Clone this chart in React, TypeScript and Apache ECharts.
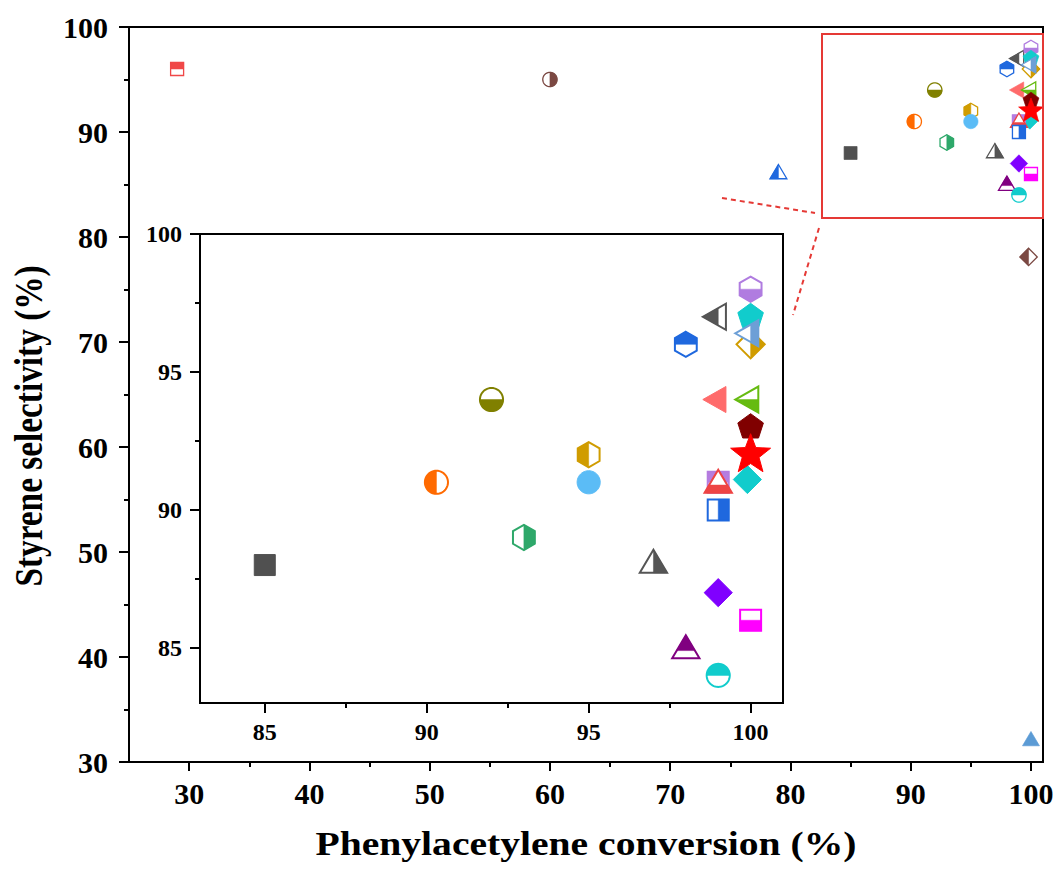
import React, { useEffect, useRef } from "react";
import * as echarts from "echarts";

// ---- data ----
const conversion: number[] = [
  29, 60, 79, 100, 99.8, 85, 90.3, 92, 93, 95, 95, 98, 99, 99, 100, 100, 100, 100, 100, 100,
  99.9, 99, 99, 99, 100, 97, 99, 100, 98, 99,
];
const selectivity: number[] = [
  96, 95, 86, 32, 78.1, 88, 91, 94, 89, 92, 91, 96, 97, 94, 94, 98, 96, 97, 96.4, 93,
  91.1, 91, 90.9, 90, 92, 88, 87, 86, 84.9, 84,
];
const markerShape: string[] = [
  "square", "circle", "triUp", "triUp", "diamond", "square", "circle", "circle", "hexagon", "hexagon",
  "circle", "hexagon", "triLeft", "triLeft", "triLeft", "hexagon", "diamond", "pentagon", "triLeft", "pentagon",
  "diamond", "square", "triUp", "square", "star", "triUp", "diamond", "square", "triUp", "circle",
];
const markerFill: string[] = [
  "top", "right", "left", "full", "left", "full", "left", "bottom", "right", "left",
  "full", "top", "left", "full", "bottom", "bottom", "right", "full", "right", "full",
  "full", "top", "bottom", "right", "full", "right", "full", "bottom", "top", "top",
];
const markerColor: string[] = [
  "#f04848", "#7b4842", "#1f68de", "#5b9bd5", "#7b4842", "#505050", "#ff6a00", "#808000", "#2ea86a", "#d09c00",
  "#5bbcf6", "#1f68de", "#555555", "#ff6b6b", "#66bb11", "#b07ce0", "#d09c00", "#11cccc", "#6d9fd6", "#800000",
  "#11cccc", "#b57de0", "#ee4444", "#1f68de", "#ff0000", "#555555", "#8000ff", "#ff00ff", "#800080", "#11cccc",
];

const mainXTicks = [30, 40, 50, 60, 70, 80, 90, 100];
const mainXMinor = [35, 45, 55, 65, 75, 85, 95];
const insetTicks = [85, 90, 95, 100];
const insetMinor = [87.5, 92.5, 97.5];

const FONT = "Liberation Serif";

type Pt = [number, number];

function basePoints(shape: string, s: number): Pt[] {
  switch (shape) {
    case "square": {
      const h = s / 2;
      return [[-h, -h], [h, -h], [h, h], [-h, h]];
    }
    case "circle": {
      const r = 0.55 * s;
      const pts: Pt[] = [];
      for (let k = 0; k < 48; k++) {
        const a = (k / 48) * Math.PI * 2;
        pts.push([r * Math.cos(a), r * Math.sin(a)]);
      }
      return pts;
    }
    case "diamond": {
      const d = 0.67 * s;
      return [[0, -d], [d, 0], [0, d], [-d, 0]];
    }
    case "triUp": {
      const w = 0.65 * s;
      const H = 1.1 * s;
      return [[0, (-2 * H) / 3], [w, H / 3], [-w, H / 3]];
    }
    case "triLeft": {
      const W = 1.1 * s;
      const hh = 0.62 * s;
      return [[(-2 * W) / 3, 0], [W / 3, -hh], [W / 3, hh]];
    }
    case "hexagon": {
      const a = 0.6 * s;
      const b = 0.52 * s;
      return [[0, -a], [b, -a / 2], [b, a / 2], [0, a], [-b, a / 2], [-b, -a / 2]];
    }
    case "pentagon": {
      const R = 0.64 * s;
      const pts: Pt[] = [];
      for (let k = 0; k < 5; k++) {
        const a = -Math.PI / 2 + (k * 2 * Math.PI) / 5;
        pts.push([R * Math.cos(a), R * Math.sin(a)]);
      }
      return pts;
    }
    case "star": {
      const R = 1.0 * s;
      const r = 0.42 * R;
      const pts: Pt[] = [];
      for (let k = 0; k < 10; k++) {
        const a = -Math.PI / 2 + (k * Math.PI) / 5;
        const rr = k % 2 === 0 ? R : r;
        pts.push([rr * Math.cos(a), rr * Math.sin(a)]);
      }
      return pts;
    }
  }
  return [];
}

function clipHalf(pts: Pt[], side: string): Pt[] {
  const f = (p: Pt) =>
    side === "left" ? -p[0] : side === "right" ? p[0] : side === "top" ? -p[1] : p[1];
  const out: Pt[] = [];
  for (let i = 0; i < pts.length; i++) {
    const a = pts[i];
    const b = pts[(i + 1) % pts.length];
    const fa = f(a);
    const fb = f(b);
    if (fa >= 0) out.push(a);
    if (fa >= 0 !== fb >= 0) {
      const t = fa / (fa - fb);
      out.push([a[0] + t * (b[0] - a[0]), a[1] + t * (b[1] - a[1])]);
    }
  }
  return out;
}

function makeRender(size: number, lw: number) {
  return (_params: any, api: any) => {
    const i = api.value(2);
    const c = api.coord([api.value(0), api.value(1)]);
    const shape = markerShape[i];
    const fill = markerFill[i];
    const color = markerColor[i];
    const local = basePoints(shape, size);
    const tr = (ps: Pt[]) => ps.map((p) => [p[0] + c[0], p[1] + c[1]]);
    if (fill === "full") {
      return {
        type: "group",
        children: [
          {
            type: "polygon",
            shape: { points: tr(local) },
            style: { fill: color, stroke: color, lineWidth: lw * 0.5 },
          },
        ],
      };
    }
    const half = clipHalf(local, fill);
    return {
      type: "group",
      children: [
        {
          type: "polygon",
          shape: { points: tr(local) },
          style: { fill: "#ffffff", stroke: color, lineWidth: lw },
        },
        {
          type: "polygon",
          shape: { points: tr(half) },
          style: { fill: color, stroke: color, lineWidth: 0.5 },
        },
      ],
    };
  };
}

const mainData = conversion.map((x, i) => [x, selectivity[i], i]);
const insetData = conversion
  .map((x, i) => [x, selectivity[i], i])
  .filter((d) => d[0] >= 83 && d[1] >= 83);

const axisLineStyle = { color: "#000", width: 2 };

export default function App() {
  const ref = useRef<HTMLDivElement>(null);
  useEffect(() => {
    if (!ref.current) return;
    const chart = echarts.init(ref.current, undefined, { renderer: "svg" });
    const mainLabel = {
      fontFamily: FONT,
      fontWeight: "bold" as const,
      fontSize: 30,
      color: "#000",
    };
    const insetLabel = {
      fontFamily: FONT,
      fontWeight: "bold" as const,
      fontSize: 24,
      color: "#000",
    };
    chart.setOption({
      animation: false,
      backgroundColor: "#ffffff",
      grid: [
        {
          left: 129,
          top: 27,
          right: 12,
          bottom: 110,
          show: true,
          borderColor: "#000",
          borderWidth: 2,
          backgroundColor: "transparent",
          containLabel: false,
          outerBoundsMode: "none",
        },
        {
          left: 200,
          top: 234,
          right: 272,
          bottom: 169,
          show: true,
          borderColor: "#000",
          borderWidth: 2,
          backgroundColor: "#ffffff",
          containLabel: false,
          outerBoundsMode: "none",
        },
      ],
      xAxis: [
        {
          type: "value",
          gridIndex: 0,
          position: "bottom",
          min: 25,
          max: 101,
          axisLine: { show: true, onZero: false, lineStyle: axisLineStyle },
          axisTick: { show: true, customValues: mainXTicks, length: 9, lineStyle: axisLineStyle },
          axisLabel: { customValues: mainXTicks, margin: 16, ...mainLabel },
          splitLine: { show: false },
        },
        {
          type: "value",
          gridIndex: 0,
          position: "bottom",
          min: 25,
          max: 101,
          axisLine: { show: false, onZero: false },
          axisTick: { show: true, customValues: mainXMinor, length: 5, lineStyle: axisLineStyle },
          axisLabel: { show: false },
          splitLine: { show: false },
        },
        {
          type: "value",
          gridIndex: 1,
          position: "bottom",
          min: 83,
          max: 101,
          axisLine: { show: true, onZero: false, lineStyle: axisLineStyle },
          axisTick: { show: true, customValues: insetTicks, length: 10, lineStyle: axisLineStyle },
          axisLabel: { customValues: insetTicks, margin: 17, ...insetLabel },
          splitLine: { show: false },
        },
        {
          type: "value",
          gridIndex: 1,
          position: "bottom",
          min: 83,
          max: 101,
          axisLine: { show: false, onZero: false },
          axisTick: { show: true, customValues: insetMinor, length: 5, lineStyle: axisLineStyle },
          axisLabel: { show: false },
          splitLine: { show: false },
        },
      ],
      yAxis: [
        {
          type: "value",
          gridIndex: 0,
          position: "left",
          min: 30,
          max: 100,
          interval: 10,
          axisLine: { show: true, onZero: false, lineStyle: axisLineStyle },
          axisTick: { show: true, length: 10, lineStyle: axisLineStyle },
          minorTick: { show: true, splitNumber: 2, length: 5, lineStyle: axisLineStyle },
          axisLabel: { margin: 21, ...mainLabel },
          splitLine: { show: false },
          minorSplitLine: { show: false },
        },
        {
          type: "value",
          gridIndex: 1,
          position: "left",
          min: 83,
          max: 100,
          axisLine: { show: true, onZero: false, lineStyle: axisLineStyle },
          axisTick: { show: true, customValues: insetTicks, length: 10, lineStyle: axisLineStyle },
          axisLabel: { customValues: insetTicks, margin: 18, ...insetLabel },
          splitLine: { show: false },
        },
        {
          type: "value",
          gridIndex: 1,
          position: "left",
          min: 83,
          max: 100,
          axisLine: { show: false, onZero: false },
          axisTick: { show: true, customValues: insetMinor, length: 5, lineStyle: axisLineStyle },
          axisLabel: { show: false },
          splitLine: { show: false },
        },
      ],
      series: [
        {
          type: "custom",
          xAxisIndex: 0,
          yAxisIndex: 0,
          renderItem: makeRender(13, 1.3),
          encode: { x: 0, y: 1 },
          data: mainData,
          clip: false,
          z: 5,
        },
        {
          type: "custom",
          xAxisIndex: 2,
          yAxisIndex: 1,
          renderItem: makeRender(21, 2),
          encode: { x: 0, y: 1 },
          data: insetData,
          clip: false,
          z: 10,
        },
      ],
      graphic: [
        {
          type: "rect",
          z: 100,
          shape: { x: 822, y: 34, width: 221, height: 184 },
          style: { fill: "transparent", stroke: "#e53935", lineWidth: 2 },
        },
        {
          type: "line",
          z: 100,
          shape: { x1: 722, y1: 198, x2: 815, y2: 213 },
          style: { stroke: "#e53935", lineWidth: 2, lineDash: [5, 4] },
        },
        {
          type: "line",
          z: 100,
          shape: { x1: 819, y1: 228, x2: 793, y2: 315 },
          style: { stroke: "#e53935", lineWidth: 2, lineDash: [5, 4] },
        },
        {
          type: "text",
          z: 100,
          x: 586,
          y: 844,
          scaleX: 1.2,
          style: {
            text: "Phenylacetylene conversion (%)",
            fontFamily: FONT,
            fontWeight: "bold",
            fontSize: 33,
            fill: "#000",
            align: "center",
            verticalAlign: "middle",
            textAlign: "center",
            textVerticalAlign: "middle",
          },
        },
        {
          type: "text",
          z: 100,
          x: 28.5,
          y: 426,
          rotation: Math.PI / 2,
          scaleX: 0.833,
          style: {
            text: "Styrene selectivity (%)",
            fontFamily: FONT,
            fontWeight: "bold",
            fontSize: 40,
            fill: "#000",
            align: "center",
            verticalAlign: "middle",
            textAlign: "center",
            textVerticalAlign: "middle",
          },
        },
      ],
    });
    return () => chart.dispose();
  }, []);
  return (
    <div
      ref={ref}
      style={{ position: "absolute", left: 0, top: 0, width: 1055, height: 872 }}
    />
  );
}
